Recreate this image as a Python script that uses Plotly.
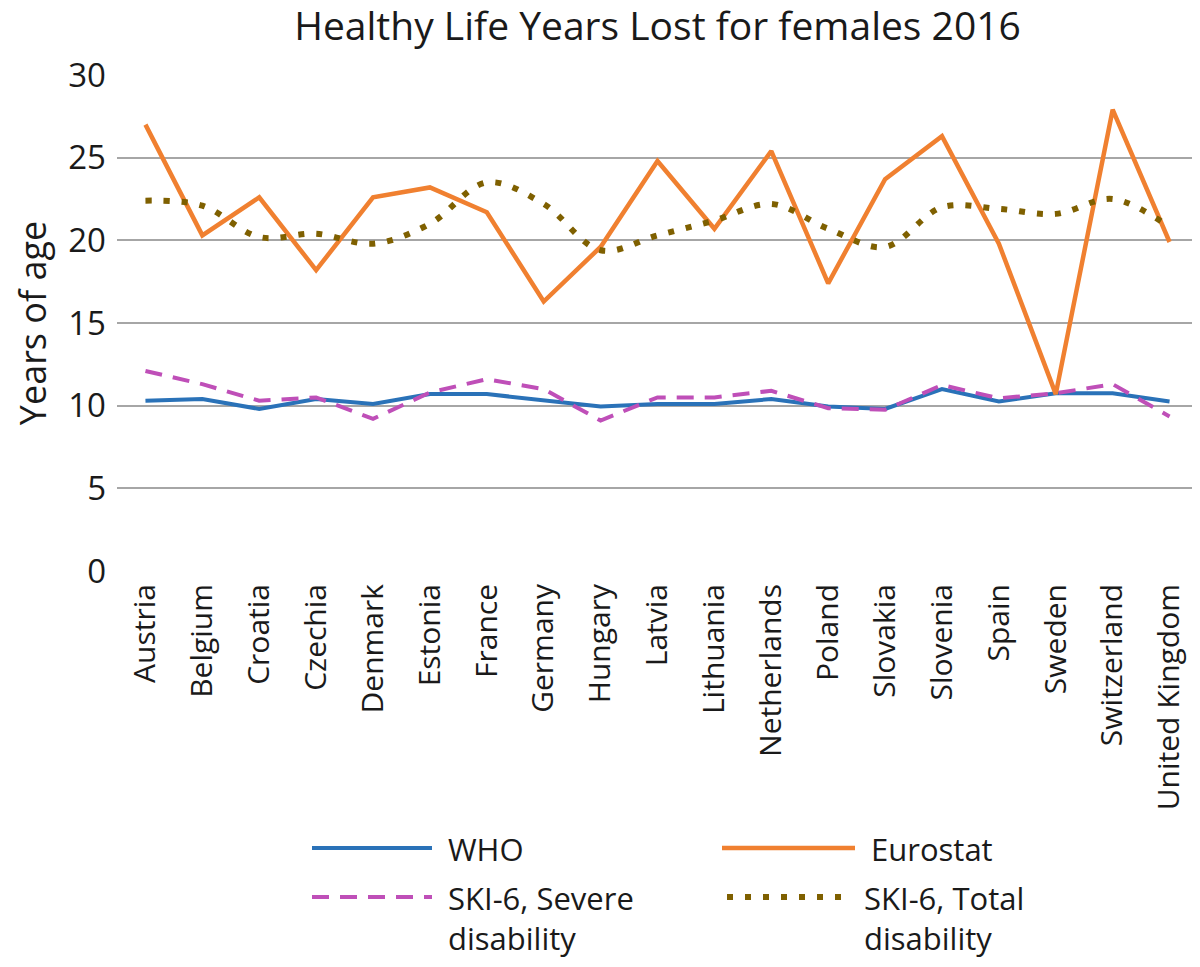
import plotly.graph_objects as go

countries = ["Austria", "Belgium", "Croatia", "Czechia", "Denmark", "Estonia", "France",
             "Germany", "Hungary", "Latvia", "Lithuania", "Netherlands", "Poland",
             "Slovakia", "Slovenia", "Spain", "Sweden", "Switzerland", "United Kingdom"]

who = [10.3, 10.4, 9.8, 10.4, 10.1, 10.7, 10.7, 10.3, 9.95, 10.1,
       10.1, 10.4, 9.95, 9.8, 11.0, 10.25, 10.75, 10.75, 10.25]
eurostat = [27.0, 20.3, 22.6, 18.2, 22.6, 23.2, 21.7, 16.3, 19.6, 24.8,
            20.7, 25.4, 17.4, 23.7, 26.3, 19.8, 10.7, 27.9, 19.9]
severe = [12.1, 11.3, 10.3, 10.5, 9.2, 10.8, 11.6, 11.0, 9.1, 10.5,
          10.5, 10.9, 9.85, 9.75, 11.25, 10.45, 10.75, 11.3, 9.35]
total = [22.4, 22.1, 20.2, 20.4, 19.8, 21.0, 23.5, 22.2, 19.4, 20.3,
         21.2, 22.2, 20.7, 19.6, 22.0, 21.9, 21.6, 22.5, 20.8]

y_ticks = [0, 5, 10, 15, 20, 25, 30]

FONT = "Open Sans"
TEXT = "#1a1a1a"

# the page body adds an 8px margin, so the figure is made 8px smaller
# and every position below is given in window pixels minus that offset
OFF = 8
W, H = 1200 - OFF, 967 - OFF
L, R, T, B = 117 - OFF, 2, 75 - OFF, 396

# name, values, colour, dash, width, shape
series = [
    ("WHO", who, "#2A72B8", "solid", 4, "linear"),
    ("Eurostat", eurostat, "#F08030", "solid", 4.5, "linear"),
    ("SKI-6, Severe<br>disability", severe, "#BF4FB8", "17px,11px", 4, "linear"),
    ("SKI-6, Total<br>disability", total, "#7F6000", "6px,12px", 6, "spline"),
]

fig = go.Figure()
for name, vals, col, dash, lw, shape in series:
    fig.add_trace(go.Scatter(
        x=countries, y=vals, mode="lines", name=name,
        line=dict(color=col, width=lw, dash=dash, shape=shape),
        showlegend=False,
    ))


def px_x(p):
    return (p - OFF - L) / (W - L - R)


def px_y(p):
    return (H - B - (p - OFF)) / (H - T - B)


# hand-made legend so the line samples are long like the original
legend_pos = [(312, 432, 848), (722, 855, 848), (312, 432, 897), (727, 848, 897)]
shapes = []
annotations = []
for (name, vals, col, dash, lw, shape), (x0, x1, yy) in zip(series, legend_pos):
    shapes.append(dict(type="line", xref="paper", yref="paper",
                       x0=px_x(x0), x1=px_x(x1), y0=px_y(yy), y1=px_y(yy),
                       line=dict(color=col, width=lw, dash=dash)))
    annotations.append(dict(xref="paper", yref="paper", x=px_x(x1 + 14), y=px_y(yy - 22),
                            text=name, showarrow=False, xanchor="left", yanchor="top",
                            align="left", font=dict(family=FONT, size=31, color=TEXT)))

fig.update_layout(
    width=W, height=H,
    margin=dict(l=L, r=R, t=T, b=B),
    paper_bgcolor="white", plot_bgcolor="white",
    font=dict(family=FONT, color=TEXT),
    title=dict(text="Healthy Life Years Lost for females 2016", x=0.5, xref="paper",
               y=1 - (26 - OFF) / H, yref="container", yanchor="middle",
               font=dict(family=FONT, size=39, color=TEXT)),
    xaxis=dict(type="category", range=[-0.5, len(countries) - 0.5], showgrid=False,
               showline=False, zeroline=False, ticks="", tickangle=-90,
               tickfont=dict(family=FONT, size=30, color=TEXT), ticklabelstandoff=6),
    yaxis=dict(range=[0, 30], tickvals=y_ticks, showgrid=True, gridcolor="#A6A6A6",
               gridwidth=2, zeroline=False, showline=False, ticks="",
               tickfont=dict(family=FONT, size=33, color=TEXT), ticklabelstandoff=10,
               title=dict(text="Years of age", standoff=28,
                          font=dict(family=FONT, size=36, color=TEXT))),
    shapes=shapes,
    annotations=annotations,
)

fig.write_html("out.html")
